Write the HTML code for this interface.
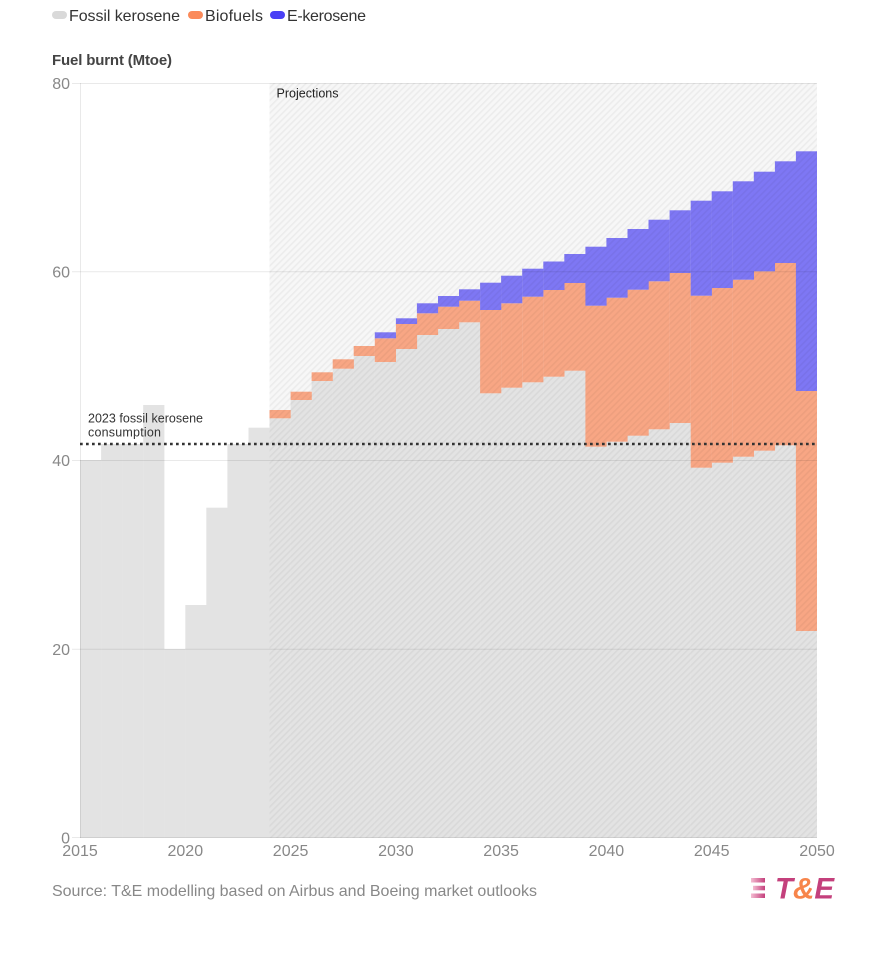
<!DOCTYPE html>
<html>
<head>
<meta charset="utf-8">
<style>
  html,body{margin:0;padding:0;background:#fff;}
  body{width:893px;height:956px;overflow:hidden;font-family:"Liberation Sans",sans-serif;}
  svg{display:block;}
</style>
</head>
<body>
<svg width="893" height="956" viewBox="0 0 893 956" xmlns="http://www.w3.org/2000/svg">
  <defs>
    <pattern id="hatch" patternUnits="userSpaceOnUse" width="4.5" height="4.5" patternTransform="rotate(45)">
      <rect x="0" y="0" width="1.6" height="4.5" fill="rgba(0,0,0,0.045)"/>
    </pattern>
    <linearGradient id="lg" x1="0" x2="1" y1="0" y2="0">
      <stop offset="0" stop-color="#f4bcd2"/>
      <stop offset="1" stop-color="#c4407c"/>
    </linearGradient>
  </defs>

  <!-- Legend -->
  <rect x="52" y="11" width="15" height="8" rx="4" fill="#d9d9d9"/>
  <text x="69" y="21" font-size="16" fill="#333" textLength="111">Fossil kerosene</text>
  <rect x="188" y="11" width="15" height="8" rx="4" fill="#fb8a5a"/>
  <text x="205" y="21" font-size="16" fill="#333" textLength="58">Biofuels</text>
  <rect x="270" y="11" width="15" height="8" rx="4" fill="#4a40f5"/>
  <text x="287" y="21" font-size="16" fill="#333" textLength="79">E-kerosene</text>

  <!-- Axis title -->
  <text x="52" y="65" font-size="15" font-weight="bold" fill="#444" textLength="120">Fuel burnt (Mtoe)</text>

  <!-- Projection background -->
  <rect x="269.5" y="83" width="547.5" height="755" fill="#f7f7f7"/>

  <!-- Fossil (gray) -->
  <g fill="#e3e3e3">
    <rect x="80.0" y="460" width="21.2" height="378"/>
    <rect x="101.1" y="444" width="21.2" height="394"/>
    <rect x="122.1" y="444" width="21.2" height="394"/>
    <rect x="143.2" y="405" width="21.2" height="433"/>
    <rect x="164.2" y="649" width="21.2" height="189"/>
    <rect x="185.3" y="605" width="21.2" height="233"/>
    <rect x="206.3" y="507.7" width="21.2" height="330.3"/>
    <rect x="227.4" y="444" width="21.2" height="394"/>
    <rect x="248.5" y="427.7" width="21.2" height="410.3"/>
    <rect x="269.5" y="418.3" width="21.2" height="419.7"/>
    <rect x="290.6" y="400" width="21.2" height="438"/>
    <rect x="311.6" y="381" width="21.2" height="457"/>
    <rect x="332.7" y="368.7" width="21.2" height="469.3"/>
    <rect x="353.7" y="356" width="21.2" height="482"/>
    <rect x="374.8" y="362" width="21.2" height="476"/>
    <rect x="395.9" y="349" width="21.2" height="489"/>
    <rect x="416.9" y="335" width="21.2" height="503"/>
    <rect x="438.0" y="329" width="21.2" height="509"/>
    <rect x="459.0" y="322.3" width="21.2" height="515.7"/>
    <rect x="480.1" y="393.3" width="21.2" height="444.7"/>
    <rect x="501.1" y="387.7" width="21.2" height="450.3"/>
    <rect x="522.2" y="382.3" width="21.2" height="455.7"/>
    <rect x="543.3" y="376.7" width="21.2" height="461.3"/>
    <rect x="564.3" y="370.7" width="21.2" height="467.3"/>
    <rect x="585.4" y="446.7" width="21.2" height="391.3"/>
    <rect x="606.4" y="441.7" width="21.2" height="396.3"/>
    <rect x="627.5" y="435.7" width="21.2" height="402.3"/>
    <rect x="648.5" y="429.3" width="21.2" height="408.7"/>
    <rect x="669.6" y="423" width="21.2" height="415"/>
    <rect x="690.7" y="467.7" width="21.2" height="370.3"/>
    <rect x="711.7" y="462.7" width="21.2" height="375.3"/>
    <rect x="732.8" y="456.7" width="21.2" height="381.3"/>
    <rect x="753.8" y="450.7" width="21.2" height="387.3"/>
    <rect x="774.9" y="445.3" width="21.2" height="392.7"/>
    <rect x="795.9" y="631" width="21.1" height="207"/>
  </g>

  <!-- Biofuels (orange) -->
  <g fill="#f8a684">
    <rect x="269.5" y="410" width="21.2" height="8.3"/>
    <rect x="290.6" y="391.7" width="21.2" height="8.3"/>
    <rect x="311.6" y="372.3" width="21.2" height="8.7"/>
    <rect x="332.7" y="359.3" width="21.2" height="9.4"/>
    <rect x="353.7" y="346" width="21.2" height="10"/>
    <rect x="374.8" y="338.3" width="21.2" height="23.7"/>
    <rect x="395.9" y="324" width="21.2" height="25"/>
    <rect x="416.9" y="313.3" width="21.2" height="21.7"/>
    <rect x="438.0" y="306.7" width="21.2" height="22.3"/>
    <rect x="459.0" y="300.7" width="21.2" height="21.6"/>
    <rect x="480.1" y="310" width="21.2" height="83.3"/>
    <rect x="501.1" y="303.3" width="21.2" height="84.4"/>
    <rect x="522.2" y="296.7" width="21.2" height="85.6"/>
    <rect x="543.3" y="290" width="21.2" height="86.7"/>
    <rect x="564.3" y="283" width="21.2" height="87.7"/>
    <rect x="585.4" y="305.7" width="21.2" height="141"/>
    <rect x="606.4" y="297.7" width="21.2" height="144"/>
    <rect x="627.5" y="289.7" width="21.2" height="146"/>
    <rect x="648.5" y="281.3" width="21.2" height="148"/>
    <rect x="669.6" y="273" width="21.2" height="150"/>
    <rect x="690.7" y="295.7" width="21.2" height="172"/>
    <rect x="711.7" y="288" width="21.2" height="174.7"/>
    <rect x="732.8" y="279.7" width="21.2" height="177"/>
    <rect x="753.8" y="271.3" width="21.2" height="179.4"/>
    <rect x="774.9" y="263" width="21.2" height="182.3"/>
    <rect x="795.9" y="391" width="21.1" height="240"/>
  </g>

  <!-- E-kerosene (blue) -->
  <g fill="#7e77f4">
    <rect x="374.8" y="332.3" width="21.2" height="6"/>
    <rect x="395.9" y="318.3" width="21.2" height="5.7"/>
    <rect x="416.9" y="303.3" width="21.2" height="10"/>
    <rect x="438.0" y="296" width="21.2" height="10.7"/>
    <rect x="459.0" y="289.3" width="21.2" height="11.4"/>
    <rect x="480.1" y="282.7" width="21.2" height="27.3"/>
    <rect x="501.1" y="275.7" width="21.2" height="27.6"/>
    <rect x="522.2" y="268.7" width="21.2" height="28"/>
    <rect x="543.3" y="261.5" width="21.2" height="28.5"/>
    <rect x="564.3" y="254" width="21.2" height="29"/>
    <rect x="585.4" y="246.7" width="21.2" height="59"/>
    <rect x="606.4" y="238" width="21.2" height="59.7"/>
    <rect x="627.5" y="229" width="21.2" height="60.7"/>
    <rect x="648.5" y="219.7" width="21.2" height="61.6"/>
    <rect x="669.6" y="210.3" width="21.2" height="62.7"/>
    <rect x="690.7" y="200.7" width="21.2" height="95"/>
    <rect x="711.7" y="191.3" width="21.2" height="96.7"/>
    <rect x="732.8" y="181.3" width="21.2" height="98.4"/>
    <rect x="753.8" y="171.7" width="21.2" height="99.6"/>
    <rect x="774.9" y="161.3" width="21.2" height="101.7"/>
    <rect x="795.9" y="151.3" width="21.1" height="239.7"/>
  </g>

  <!-- Hatch overlay on projection area -->
  <rect x="269.5" y="83" width="547.5" height="755" fill="url(#hatch)"/>

  <!-- Gridlines -->
  <g stroke="rgba(0,0,0,0.085)" stroke-width="1">
    <line x1="72" y1="83.5" x2="817" y2="83.5"/>
    <line x1="72" y1="271.8" x2="817" y2="271.8"/>
    <line x1="72" y1="460.5" x2="817" y2="460.5"/>
    <line x1="72" y1="649.3" x2="817" y2="649.3"/>
    <line x1="72" y1="837.5" x2="817" y2="837.5"/>
    <line x1="80.5" y1="83" x2="80.5" y2="838"/>
  </g>

  <!-- Y tick labels -->
  <g font-size="16" fill="#888" text-anchor="end">
    <text x="70" y="89">80</text>
    <text x="70" y="277.5">60</text>
    <text x="70" y="466">40</text>
    <text x="70" y="655">20</text>
    <text x="70" y="843.5">0</text>
  </g>

  <!-- X tick labels -->
  <g font-size="16" fill="#888" text-anchor="middle">
    <text x="80" y="856">2015</text>
    <text x="185.3" y="856">2020</text>
    <text x="290.6" y="856">2025</text>
    <text x="395.9" y="856">2030</text>
    <text x="501.1" y="856">2035</text>
    <text x="606.4" y="856">2040</text>
    <text x="711.7" y="856">2045</text>
    <text x="817" y="856">2050</text>
  </g>

  <!-- Projections label -->
  <text x="276.5" y="97.5" font-size="12.5" fill="#222" textLength="62">Projections</text>

  <!-- 2023 reference line -->
  <line x1="80" y1="444" x2="817" y2="444" stroke="#333" stroke-width="2.6" stroke-dasharray="2.7 3.3"/>
  <text x="88" y="422.7" font-size="12.5" fill="#333" textLength="115">2023 fossil kerosene</text>
  <text x="88" y="436.7" font-size="12.5" fill="#333" textLength="73">consumption</text>

  <!-- Source -->
  <text x="52" y="896" font-size="16" fill="#888" textLength="485">Source: T&amp;E modelling based on Airbus and Boeing market outlooks</text>

  <!-- T&E logo -->
  <g>
    <rect x="751" y="878" width="14" height="4.5" fill="url(#lg)"/>
    <rect x="753" y="885.8" width="12" height="4.5" fill="url(#lg)"/>
    <rect x="751" y="893.5" width="14" height="4.5" fill="url(#lg)"/>
    <text x="775" y="898.5" font-size="30" font-weight="bold" font-style="italic" textLength="59" lengthAdjust="spacingAndGlyphs"><tspan fill="#c4407c">T</tspan><tspan fill="#f7854b">&amp;</tspan><tspan fill="#c4407c">E</tspan></text>
  </g>
</svg>
</body>
</html>
